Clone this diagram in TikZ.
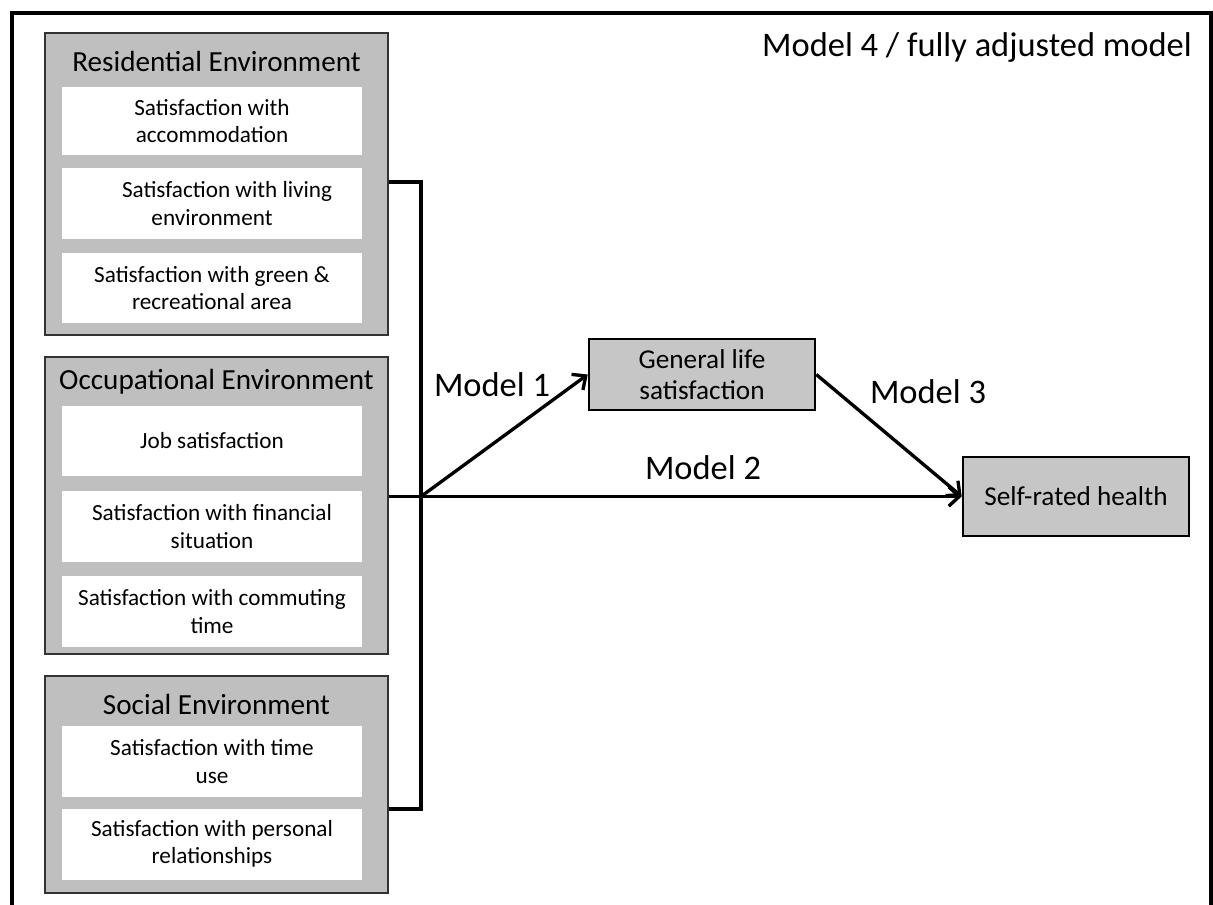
\documentclass[tikz,border=0pt]{standalone}
\usepackage{fontspec}
\setmainfont{Carlito}
\usepackage{xcolor}
\usetikzlibrary{positioning, arrows, arrows.meta, shadows}

\definecolor{envgray}{RGB}{191,191,191}
\definecolor{boxgray}{RGB}{198,198,198}

\begin{document}
\begin{tikzpicture}[x=0.02cm, y=-0.02cm, >={Straight Barb[length=6pt, width=11pt]},
    envbox/.style={rectangle, draw=black!80, line width=1.2pt, fill=envgray,
        minimum width=6.86cm, inner sep=0pt,
        drop shadow={shadow xshift=0.5pt, shadow yshift=-0.8pt, opacity=0.4}},
    envtitle/.style={font=\fontsize{16.6}{19}\selectfont},
    itembox/.style={rectangle, fill=white, minimum width=6cm, minimum height=1.42cm,
        inner sep=0pt, align=center, font=\fontsize{13.2}{15.5}\selectfont},
    outcome/.style={rectangle, draw=black, line width=1.5pt, fill=boxgray,
        minimum width=4.52cm, inner sep=0pt, align=center,
        font=\fontsize{15.5}{17.6}\selectfont},
    modellabel/.style={font=\fontsize{19.6}{23}\selectfont},
    conn/.style={line width=1.9pt}]

    \useasboundingbox (0, 0) rectangle (1213, 905);
    \draw[line width=2.8pt] (12, 905) -- (12, 13) -- (1211, 13) -- (1211, 905);

    % environment groups
    \node[envbox, minimum height=6.04cm] (res) at (216.5, 184) {};
    \node[envbox, minimum height=5.94cm] (occ) at (216.5, 505.5) {};
    \node[envbox, minimum height=4.34cm] (soc) at (216.5, 784.5) {};

    \node[envtitle] (resT) at (216.5, 61) {Residential Environment};
    \node[envtitle] (occT) at (216.5, 382) {Occupational Environment};
    \node[envtitle] (socT) at (216.5, 704) {Social Environment};

    \node[itembox, minimum height=1.36cm] (r1) at (212, 121) {Satisfaction with\\accommodation};
    \node[itembox] (r2) at (212, 203.5) {\hspace*{1.3em}Satisfaction with living\\environment};
    \node[itembox] (r3) at (212, 288) {Satisfaction with green \&\\recreational area};

    \node[itembox] (o1) at (212, 441) {Job satisfaction};
    \node[itembox] (o2) at (212, 526.5) {Satisfaction with financial\\situation};
    \node[itembox] (o3) at (212, 611.5) {Satisfaction with commuting\\time};

    \node[itembox] (s1) at (212, 761.5) {Satisfaction with time\\use};
    \node[itembox] (s2) at (212, 844) {Satisfaction with personal\\relationships};

    % outcomes
    \node[outcome, minimum height=1.42cm] (glife) at (702, 374.5) {General life\\satisfaction};
    \node[outcome, minimum height=1.58cm] (srh) at (1076, 496.5) {Self-rated health};

    \node[modellabel] (m4) at (977, 48) {Model 4 / fully adjusted model};
    \node[modellabel] (m1) at (492, 385) {Model 1};
    \node[modellabel] (m2) at (703, 468) {Model 2};
    \node[modellabel] (m3) at (928, 392) {Model 3};

    % connectors
    \coordinate (jr) at (421, 182);
    \coordinate (js) at (421, 809);
    \coordinate (jo) at (jr |- srh.west);

    \draw[conn] (res.east |- jr) -- (jr) -- (js) -- (soc.east |- js);
    \draw[conn, ->] (occ.east |- jo) -- (srh.west);
    \draw[conn, ->] (jo) -- (glife.west);
    \draw[conn, ->] (glife.east) -- (srh.west);
\end{tikzpicture}
\end{document}
